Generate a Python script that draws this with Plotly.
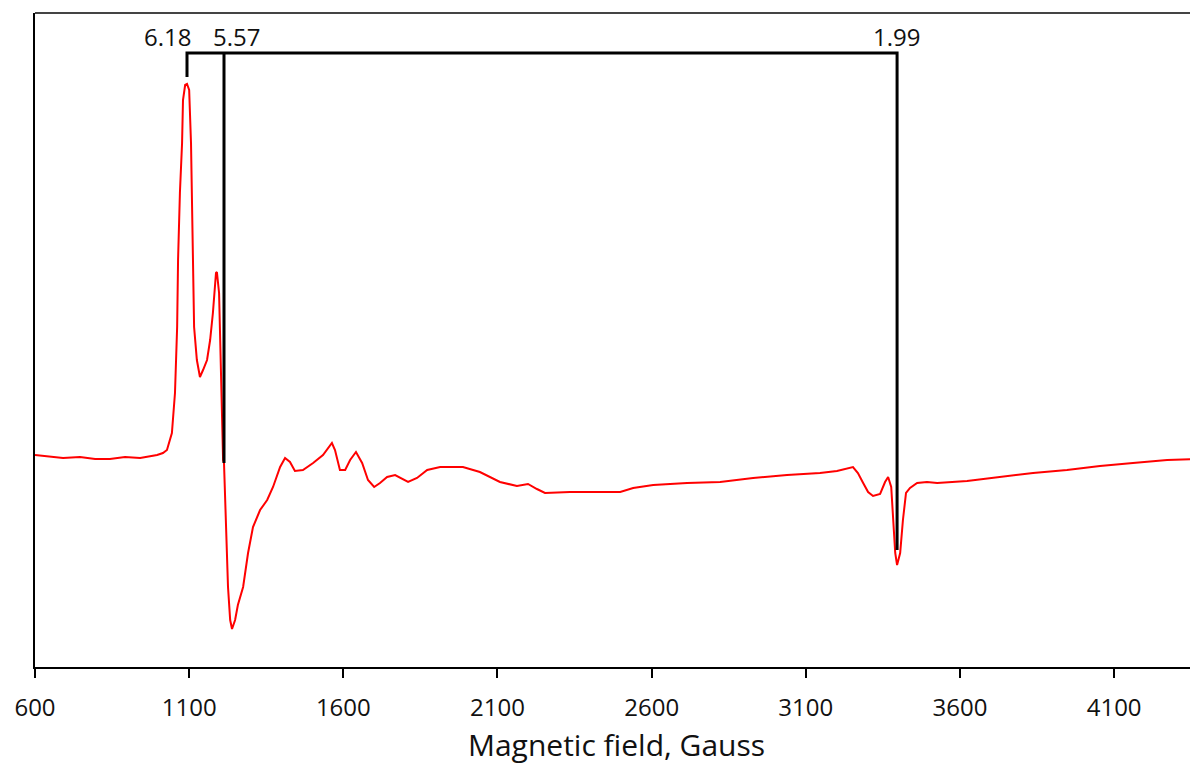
import plotly.graph_objects as go

# EPR spectrum (field in Gauss, intensity in arbitrary units)
field = [600, 649, 691, 746, 795, 843, 892, 941, 996, 1015, 1028, 1044, 1054, 1061, 1064,
         1070, 1077, 1080, 1087, 1093, 1100, 1106, 1109, 1112, 1116, 1125, 1135, 1145, 1158,
         1168, 1177, 1187, 1190, 1197, 1203, 1207, 1210, 1213, 1220, 1226, 1233, 1239, 1249,
         1258, 1275, 1291, 1307, 1330, 1353, 1372, 1395, 1411, 1427, 1443, 1469, 1502, 1534,
         1563, 1573, 1589, 1606, 1622, 1641, 1661, 1680, 1700, 1719, 1742, 1768, 1794, 1810,
         1839, 1872, 1914, 1946, 1988, 2043, 2076, 2108, 2163, 2199, 2228, 2254, 2335, 2442,
         2498, 2540, 2605, 2715, 2822, 2929, 3039, 3146, 3201, 3253, 3269, 3286, 3302, 3318,
         3341, 3357, 3367, 3377, 3383, 3390, 3396, 3406, 3415, 3425, 3438, 3461, 3493, 3526,
         3623, 3730, 3837, 3947, 4054, 4161, 4272, 4372]
intensity = [212, 210, 209, 210, 208, 208, 210, 209, 212, 214, 217, 234, 274, 340, 407,
             474, 524, 567, 582, 583, 577, 524, 457, 390, 340, 307, 290, 297, 307,
             327, 354, 394, 395, 374, 307, 240, 207, 204, 147, 80, 47, 38, 47,
             62, 80, 114, 140, 157, 167, 180, 200, 209, 205, 196, 197, 204, 212,
             224, 217, 197, 197, 207, 215, 204, 187, 180, 184, 190, 192, 188, 185,
             189, 197, 200, 200, 200, 195, 190, 185, 181, 183, 178, 174, 175, 175,
             175, 179, 182, 184, 185, 189, 192, 194, 196, 200, 194, 184, 175, 171,
             173, 185, 190, 180, 147, 114, 102, 114, 147, 174, 179, 184, 185, 184,
             186, 190, 194, 197, 201, 204, 207, 208]

# g-factor markers
g_labels = ["6.18", "5.57", "1.99"]
g_fields = [1093, 1213, 3396]
g_tips = [590, 204, 117]
g_label_x = [1031, 1255, 3393]
bracket_level = 614
label_level = 631

x_ticks = [600, 1100, 1600, 2100, 2600, 3100, 3600, 4100]

fig = go.Figure()
fig.add_trace(go.Scatter(x=field, y=intensity, mode="lines",
                         line=dict(color="#ff0000", width=2), hoverinfo="skip"))

# bracket: 6.18 tick + horizontal bar to 1.99, plus 5.57 drop
bx = [g_fields[0], g_fields[0], g_fields[2], g_fields[2], None, g_fields[1], g_fields[1]]
by = [g_tips[0], bracket_level, bracket_level, g_tips[2], None, bracket_level, g_tips[1]]
fig.add_trace(go.Scatter(x=bx, y=by, mode="lines", line=dict(color="black", width=3),
                         hoverinfo="skip", connectgaps=False))

for lx, lab in zip(g_label_x, g_labels):
    fig.add_annotation(x=lx, y=label_level, text=lab, showarrow=False,
                       font=dict(family="Open Sans", size=24, color="#111"),
                       xanchor="center", yanchor="middle")

fig.add_shape(type="line", xref="paper", yref="paper", x0=0, x1=1, y0=1, y1=1,
              line=dict(color="#444", width=2))

fig.update_layout(
    width=1190, height=757,
    margin=dict(l=27, r=0, t=5, b=98, pad=0),
    paper_bgcolor="white", plot_bgcolor="white",
    showlegend=False,
    font=dict(family="Open Sans", color="#111"),
    xaxis=dict(range=[600, 4372], tickvals=x_ticks, ticktext=[str(v) for v in x_ticks],
               showgrid=False, zeroline=False, showline=True, linecolor="black", linewidth=2,
               ticks="outside", ticklen=9, tickwidth=2, tickcolor="black",
               ticklabelstandoff=9,
               tickfont=dict(size=24), title=dict(text="Magnetic field, Gauss",
                                                  font=dict(size=30), standoff=14)),
    yaxis=dict(range=[0, 654], showgrid=False, zeroline=False, showline=True,
               linecolor="black", linewidth=2, showticklabels=False, ticks=""),
)

fig.write_html("out.html")
